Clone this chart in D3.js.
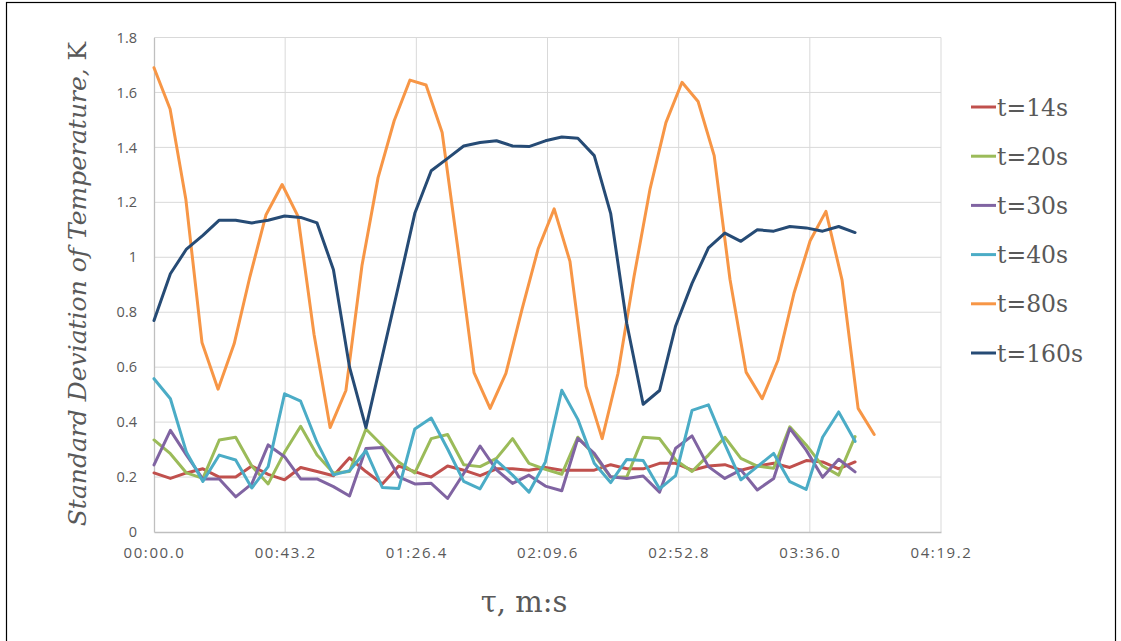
<!DOCTYPE html>
<html>
<head>
<meta charset="utf-8">
<script src="https://cdn.jsdelivr.net/npm/d3@7/dist/d3.min.js"></script>
<style>
  body { margin: 0; background: #fff; }
</style>
</head>
<body>
<script>
// sampling times (seconds)
const tauMain = [0, 5.4, 10.7, 16.1, 21.5, 26.9, 32.2, 37.6, 43.0, 48.3, 53.7, 59.1, 64.4, 69.8,
  75.2, 80.6, 85.9, 91.3, 96.7, 102.0, 107.4, 112.8, 118.1, 123.5, 128.9, 134.3, 139.6, 145.0,
  150.4, 155.7, 161.1, 166.5, 171.8, 177.2, 182.6, 188.0, 193.3, 198.7, 204.1, 209.4, 214.8,
  220.2, 225.5, 230.9];
const tauOrange = [0, 5.3, 10.5, 15.8, 21.1, 26.4, 31.6, 36.9, 42.2, 47.4, 52.7, 58.0, 63.2,
  68.5, 73.8, 79.1, 84.3, 89.6, 94.9, 100.1, 105.4, 110.7, 115.9, 121.2, 126.5, 131.8, 137.0,
  142.3, 147.6, 152.8, 158.1, 163.4, 168.6, 173.9, 179.2, 184.5, 189.7, 195.0, 200.3, 205.5,
  210.8, 216.1, 221.3, 226.6, 231.9, 237.2];

const t14 = [0.215, 0.195, 0.215, 0.23, 0.2, 0.2, 0.24, 0.21, 0.19, 0.235, 0.22, 0.205, 0.27,
  0.22, 0.175, 0.24, 0.22, 0.2, 0.24, 0.225, 0.205, 0.23, 0.23, 0.225, 0.235, 0.225, 0.225,
  0.225, 0.245, 0.23, 0.23, 0.25, 0.25, 0.225, 0.24, 0.245, 0.225, 0.24, 0.25, 0.235, 0.26,
  0.255, 0.23, 0.255];
const t20 = [0.335, 0.285, 0.215, 0.195, 0.335, 0.345, 0.24, 0.175, 0.29, 0.385, 0.28, 0.215,
  0.22, 0.375, 0.315, 0.255, 0.215, 0.34, 0.355, 0.245, 0.238, 0.268, 0.34, 0.25, 0.228, 0.21,
  0.345, 0.28, 0.2, 0.2, 0.345, 0.34, 0.262, 0.22, 0.28, 0.345, 0.268, 0.24, 0.232, 0.383,
  0.317, 0.24, 0.207, 0.347];
const t30 = [0.244, 0.37, 0.28, 0.193, 0.193, 0.128, 0.175, 0.317, 0.274, 0.193, 0.193, 0.165,
  0.131, 0.304, 0.308, 0.201, 0.175, 0.177, 0.122, 0.213, 0.313, 0.226, 0.177, 0.207, 0.167,
  0.15, 0.341, 0.286, 0.201, 0.195, 0.204, 0.145, 0.305, 0.35, 0.238, 0.195, 0.226, 0.153,
  0.195, 0.377, 0.298, 0.199, 0.265, 0.219];
const t40 = [0.558, 0.485, 0.29, 0.184, 0.28, 0.262, 0.16, 0.238, 0.503, 0.476, 0.326, 0.208,
  0.223, 0.296, 0.162, 0.158, 0.375, 0.415, 0.302, 0.184, 0.157, 0.26, 0.207, 0.145, 0.255,
  0.516, 0.41, 0.25, 0.18, 0.264, 0.26, 0.157, 0.205, 0.443, 0.463, 0.32, 0.19, 0.238, 0.286,
  0.183, 0.155, 0.345, 0.437, 0.33];
const t80 = [1.69, 1.54, 1.21, 0.69, 0.52, 0.685, 0.93, 1.155, 1.265, 1.15, 0.72, 0.38, 0.515,
  0.97, 1.29, 1.497, 1.645, 1.627, 1.454, 1.03, 0.58, 0.45, 0.577, 0.81, 1.03, 1.176, 0.985,
  0.53, 0.34, 0.577, 0.93, 1.25, 1.49, 1.637, 1.567, 1.37, 0.92, 0.582, 0.485, 0.625, 0.87,
  1.06, 1.167, 0.918, 0.45, 0.355];
const t160 = [0.77, 0.94, 1.03, 1.08, 1.135, 1.135, 1.125, 1.135, 1.15, 1.145, 1.125, 0.955,
  0.6, 0.38, 0.64, 0.9, 1.16, 1.315, 1.36, 1.405, 1.418, 1.424, 1.405, 1.403, 1.424, 1.438,
  1.433, 1.37, 1.16, 0.76, 0.465, 0.515, 0.75, 0.905, 1.034, 1.088, 1.058, 1.1, 1.095, 1.112,
  1.107, 1.095, 1.112, 1.09];

const seriesNames = ["t=14s", "t=20s", "t=30s", "t=40s", "t=80s", "t=160s"];
const seriesColors = ["#C0504D", "#9BBB59", "#8064A2", "#4BACC6", "#F79646", "#264B75"];

const xTickValues = [0, 43.2, 86.4, 129.6, 172.8, 216.0, 259.2];
const xTickLabels = ["00:00.0", "00:43.2", "01:26.4", "02:09.6", "02:52.8", "03:36.0", "04:19.2"];
const yTickValues = [0, 0.2, 0.4, 0.6, 0.8, 1, 1.2, 1.4, 1.6, 1.8];
const yTickLabels = ["0", "0.2", "0.4", "0.6", "0.8", "1", "1.2", "1.4", "1.6", "1.8"];

const series = [
  {name: seriesNames[0], color: seriesColors[0], tau: tauMain, vals: t14},
  {name: seriesNames[1], color: seriesColors[1], tau: tauMain, vals: t20},
  {name: seriesNames[2], color: seriesColors[2], tau: tauMain, vals: t30},
  {name: seriesNames[3], color: seriesColors[3], tau: tauMain, vals: t40},
  {name: seriesNames[4], color: seriesColors[4], tau: tauOrange, vals: t80},
  {name: seriesNames[5], color: seriesColors[5], tau: tauMain, vals: t160}
];

let margin = {top: 37.5, left: 154},
    width = 787,
    height = 494.5;

let svg = d3.select("body")
  .append("svg")
  .attr("width", 1121)
  .attr("height", 641);

// outer frame
svg.append("rect")
  .attr("x", 6.5).attr("y", 2.5)
  .attr("width", 1109).attr("height", 650)
  .attr("fill", "none")
  .attr("stroke", "#000")
  .attr("stroke-width", 1.2);

let g = svg.append("g")
  .attr("transform", `translate(${margin.left},${margin.top})`);

let xScale = d3.scaleLinear().domain([0, 259.2]).range([0, width]);
let yScale = d3.scaleLinear().domain([0, 1.8]).range([height, 0]);

// gridlines
g.append("g")
  .selectAll("line")
  .data(yTickValues.slice(1))
  .enter().append("line")
    .attr("x1", 0).attr("x2", width)
    .attr("y1", d => yScale(d)).attr("y2", d => yScale(d))
    .attr("stroke", "#d9d9d9").attr("stroke-width", 1);

g.append("g")
  .selectAll("line")
  .data(xTickValues.slice(1))
  .enter().append("line")
    .attr("x1", d => xScale(d)).attr("x2", d => xScale(d))
    .attr("y1", 0).attr("y2", height)
    .attr("stroke", "#d9d9d9").attr("stroke-width", 1);

// axes
const xAxis = d3.axisBottom(xScale)
  .tickValues(xTickValues)
  .tickSize(0)
  .tickPadding(15)
  .tickFormat((d, i) => xTickLabels[i]);

const yAxis = d3.axisLeft(yScale)
  .tickValues(yTickValues)
  .tickSize(0)
  .tickPadding(17)
  .tickFormat((d, i) => yTickLabels[i]);

let xg = g.append("g")
  .attr("transform", "translate(0," + height + ")")
  .call(xAxis);
let yg = g.append("g").call(yAxis);

[xg, yg].forEach(a => {
  a.select(".domain").attr("stroke", "#bfbfbf").attr("stroke-width", 1.3);
  a.selectAll("text")
    .attr("fill", "#595959")
    .style("font-family", "'Open Sans', sans-serif")
    .style("font-size", "14.5px");
});
xg.selectAll("text")
  .style("font-size", "15px")
  .style("letter-spacing", "1.6px");

// series lines
const line = d3.line()
  .x(d => xScale(d[0]))
  .y(d => yScale(d[1]));

g.selectAll(".series")
  .data(series)
  .enter().append("path")
    .attr("class", "series")
    .attr("fill", "none")
    .attr("stroke", d => d.color)
    .attr("stroke-width", 3)
    .attr("stroke-linejoin", "round")
    .attr("stroke-linecap", "round")
    .attr("d", d => line(d.vals.map((v, i) => [d.tau[i], v])));

// axis titles
svg.append("text")
  .attr("transform", "translate(86,284) rotate(-90)")
  .attr("text-anchor", "middle")
  .attr("fill", "#595959")
  .style("font-family", "'DejaVu Serif', serif")
  .style("font-size", "25px")
  .style("font-style", "italic")
  .text("Standard Deviation of Temperature, ")
  .append("tspan")
    .style("font-style", "normal")
    .text("K");

svg.append("text")
  .attr("x", 524).attr("y", 612)
  .attr("text-anchor", "middle")
  .attr("fill", "#595959")
  .style("font-family", "'DejaVu Serif', serif")
  .style("font-size", "29px")
  .text("τ, m:s");

// legend
let legend = svg.append("g")
  .selectAll("g")
  .data(series)
  .enter().append("g")
    .attr("transform", (d, i) => `translate(971,${107 + i * 49.2})`);

legend.append("line")
  .attr("x1", 0).attr("x2", 25)
  .attr("stroke", d => d.color)
  .attr("stroke-width", 3);

legend.append("text")
  .attr("x", 26).attr("y", 8.5)
  .attr("fill", "#595959")
  .style("font-family", "'DejaVu Serif', serif")
  .style("font-size", "23.5px")
  .text(d => d.name);
</script>
</body>
</html>
